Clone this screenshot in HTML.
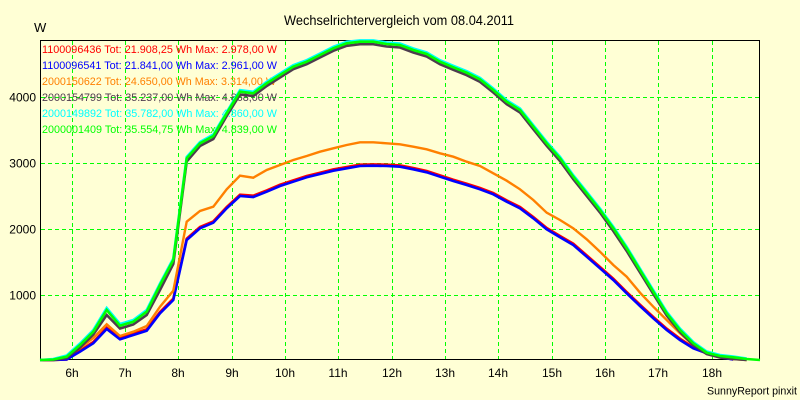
<!DOCTYPE html>
<html>
<head>
<meta charset="utf-8">
<style>
html,body{margin:0;padding:0;background:#FFFFD5;}
svg{display:block;}
text{font-family:"Liberation Sans",Arial,sans-serif;}
</style>
</head>
<body>
<svg width="800" height="400" viewBox="0 0 800 400" xmlns="http://www.w3.org/2000/svg">
<rect x="0" y="0" width="800" height="400" fill="#FFFFD5"/>

<!-- title -->
<text x="284" y="25" font-size="13.5" fill="#000" textLength="230" lengthAdjust="spacingAndGlyphs">Wechselrichtervergleich vom 08.04.2011</text>
<text x="34" y="32" font-size="13" fill="#000">W</text>

<!-- grid -->
<g stroke="#00FF00" stroke-width="1" stroke-dasharray="4,3" shape-rendering="crispEdges">
<line x1="72.5" y1="41" x2="72.5" y2="359"/>
<line x1="125.5" y1="41" x2="125.5" y2="359"/>
<line x1="178.5" y1="41" x2="178.5" y2="359"/>
<line x1="232.5" y1="41" x2="232.5" y2="359"/>
<line x1="285.5" y1="41" x2="285.5" y2="359"/>
<line x1="338.5" y1="41" x2="338.5" y2="359"/>
<line x1="392.5" y1="41" x2="392.5" y2="359"/>
<line x1="445.5" y1="41" x2="445.5" y2="359"/>
<line x1="498.5" y1="41" x2="498.5" y2="359"/>
<line x1="552.5" y1="41" x2="552.5" y2="359"/>
<line x1="605.5" y1="41" x2="605.5" y2="359"/>
<line x1="658.5" y1="41" x2="658.5" y2="359"/>
<line x1="712.5" y1="41" x2="712.5" y2="359"/>
<line x1="41" y1="97.5" x2="759" y2="97.5"/>
<line x1="41" y1="163.5" x2="759" y2="163.5"/>
<line x1="41" y1="229.5" x2="759" y2="229.5"/>
<line x1="41" y1="295.5" x2="759" y2="295.5"/>
</g>

<!-- frame -->
<rect x="40.5" y="40.5" width="719" height="319" fill="none" stroke="#000" stroke-width="1" shape-rendering="crispEdges"/>

<!-- y labels -->
<g font-size="12" fill="#000" text-anchor="end">
<text x="36" y="101.5">4000</text>
<text x="36" y="167.5">3000</text>
<text x="36" y="233.5">2000</text>
<text x="36" y="299.5">1000</text>
</g>

<!-- x labels -->
<g font-size="12" fill="#000" text-anchor="middle">
<text x="72" y="377">6h</text>
<text x="125" y="377">7h</text>
<text x="178" y="377">8h</text>
<text x="232" y="377">9h</text>
<text x="285" y="377">10h</text>
<text x="338" y="377">11h</text>
<text x="392" y="377">12h</text>
<text x="445" y="377">13h</text>
<text x="498" y="377">14h</text>
<text x="552" y="377">15h</text>
<text x="605" y="377">16h</text>
<text x="658" y="377">17h</text>
<text x="712" y="377">18h</text>
</g>

<text x="707" y="394.5" font-size="11" fill="#000" textLength="90" lengthAdjust="spacingAndGlyphs">SunnyReport pinxit</text>

<!-- legend -->
<g font-size="11">
<text x="42" y="53" fill="#FF0000" textLength="235" lengthAdjust="spacingAndGlyphs">1100096436 Tot: 21.908,25 Wh Max: 2.978,00 W</text>
<text x="42" y="69" fill="#0000FF" textLength="235" lengthAdjust="spacingAndGlyphs">1100096541 Tot: 21.841,00 Wh Max: 2.961,00 W</text>
<text x="42" y="85" fill="#FF8000" textLength="234" lengthAdjust="spacingAndGlyphs">2000150622 Tot: 24.650,00 Wh Max: 3.314,00 W</text>
<text x="42" y="101" fill="#4E3C4E" textLength="235" lengthAdjust="spacingAndGlyphs">2000154799 Tot: 35.237,00 Wh Max: 4.868,00 W</text>
<text x="42" y="117" fill="#00FFFF" textLength="235" lengthAdjust="spacingAndGlyphs">2000149892 Tot: 35.782,00 Wh Max: 4.860,00 W</text>
<text x="42" y="133" fill="#00FF00" textLength="235" lengthAdjust="spacingAndGlyphs">2000001409 Tot: 35.554,75 Wh Max: 4.839,00 W</text>
</g>

<!-- series -->
<g fill="none" stroke-linejoin="miter" stroke-linecap="butt">
<polyline stroke="#FF0000" stroke-width="2.6" points="40,360 53.3,360 66.7,359.5 80,350.7 93.3,342 106.7,327.7 120,338 133.3,333.7 146.7,329.4 160,312 173.3,298.7 186.7,238.7 200,227 213.3,221.4 226.7,207 240,194.7 253.3,195.7 266.7,190.4 280,184.7 293.3,180.4 306.7,176 320,172.7 333.3,169.4 346.7,167 360,164.7 373.3,164.4 386.7,164.7 400,165.4 413.3,168 426.7,171 440,175.4 453.3,179.7 466.7,183.7 480,188 493.3,193 506.7,200.4 520,207 533.3,217 546.7,228 560,236 573.3,243.7 586.7,255.4 600,267 613.3,278.7 626.7,292 640,304.7 653.3,317 666.7,328.7 680,338.7 693.3,347.3 706.7,352.5 720,356.7 733.3,359.5"/>
<polyline stroke="#0000FF" stroke-width="2.6" points="40,360 53.3,360 66.7,359.5 80,351.7 93.3,343.3 106.7,329 120,339.3 133.3,335 146.7,330.7 160,313.3 173.3,300 186.7,240 200,228.3 213.3,222.7 226.7,208.3 240,196 253.3,197 266.7,191.7 280,186 293.3,181.7 306.7,177.3 320,174 333.3,170.7 346.7,168.3 360,166 373.3,165.7 386.7,166 400,166.7 413.3,169.3 426.7,172.3 440,176.7 453.3,181 466.7,185 480,189.3 493.3,194.3 506.7,201.7 520,208.3 533.3,218.3 546.7,229.3 560,237.3 573.3,245 586.7,256.7 600,268.3 613.3,280 626.7,293.3 640,306 653.3,318.3 666.7,330 680,340 693.3,348.3 706.7,353.3 720,357.3 733.3,359.5"/>
<polyline stroke="#FF8000" stroke-width="2.4" points="40,360 53.3,360 66.7,357 80,348 93.3,338 106.7,324.3 120,336 133.3,331.7 146.7,326 160,306.7 173.3,290.7 186.7,221.7 200,211 213.3,206.7 226.7,189.3 240,175.7 253.3,177.7 266.7,170 280,165 293.3,160 306.7,156 320,151.7 333.3,148.3 346.7,145 360,142.3 373.3,142.3 386.7,143.3 400,144.3 413.3,146.7 426.7,149.3 440,153.3 453.3,156.7 466.7,161.7 480,166 493.3,173.3 506.7,180.7 520,189.3 533.3,200 546.7,212.7 560,220 573.3,228.3 586.7,239.3 600,251.7 613.3,265 626.7,276.7 640,292.7 653.3,306.7 666.7,320 680,333.3 693.3,345 706.7,352.7 720,356.7 733.3,359 746.7,360"/>
<polyline stroke="#4E3C4E" stroke-width="2.6" points="40,360 53.3,360 66.7,358 80,347.5 93.3,334.5 106.7,315 120,328.5 133.3,324.5 146.7,315 160,290 173.3,264 186.7,161.5 200,146 213.3,139 226.7,116 240,94.5 253.3,96 266.7,86 280,77.5 293.3,69.2 306.7,64.2 320,57.5 333.3,50.8 346.7,45.8 360,44.2 373.3,44.2 386.7,46.5 400,47.5 413.3,52.5 426.7,56.5 440,64.2 453.3,69.8 466.7,75.2 480,81.8 493.3,92.5 506.7,104.2 520,112.5 533.3,129.2 546.7,145.8 560,161 573.3,179.2 586.7,196 600,212.5 613.3,231 626.7,251 640,272.5 653.3,294 666.7,315.5 680,332 693.3,345 706.7,354 720,357.5 733.3,359 746.7,360"/>
<polyline stroke="#00FFFF" stroke-width="2.6" points="40,360 53.3,359 66.7,355.5 80,343.5 93.3,330 106.7,308 120,324 133.3,320 146.7,310 160,283.5 173.3,258.5 186.7,157 200,142 213.3,134.5 226.7,112 240,90.2 253.3,91.8 266.7,81.8 280,73.5 293.3,65.2 306.7,60.2 320,53.5 333.3,46.8 346.7,41.8 360,40.4 373.3,40.4 386.7,42.5 400,43.5 413.3,48.5 426.7,52.5 440,60.2 453.3,65.8 466.7,71.2 480,77.8 493.3,88.5 506.7,100.2 520,108.5 533.3,125.2 546.7,141.8 560,156.8 573.3,175.2 586.7,191.8 600,208.5 613.3,226.8 626.7,246.8 640,268.5 653.3,290.2 666.7,311.8 680,328.5 693.3,342 706.7,351.5 720,355 733.3,356.5 746.7,358.5"/>
<polyline stroke="#00FF00" stroke-width="2.6" points="40,360 53.3,359.5 66.7,356.7 80,345 93.3,331.7 106.7,310 120,325.7 133.3,321.7 146.7,311.7 160,285 173.3,260 186.7,158.3 200,143.3 213.3,136 226.7,113.3 240,91.7 253.3,93.3 266.7,83.3 280,75 293.3,66.7 306.7,61.7 320,55 333.3,48.3 346.7,43.3 360,41.7 373.3,41.7 386.7,44 400,45 413.3,50 426.7,54 440,61.7 453.3,67.3 466.7,72.7 480,79.3 493.3,90 506.7,101.7 520,110 533.3,126.7 546.7,143.3 560,158.3 573.3,176.7 586.7,193.3 600,210 613.3,228.3 626.7,248.3 640,270 653.3,291.7 666.7,313.3 680,330 693.3,343.3 706.7,352.7 720,356 733.3,357.3 746.7,359 760,360"/>
</g>
</svg>
</body>
</html>
